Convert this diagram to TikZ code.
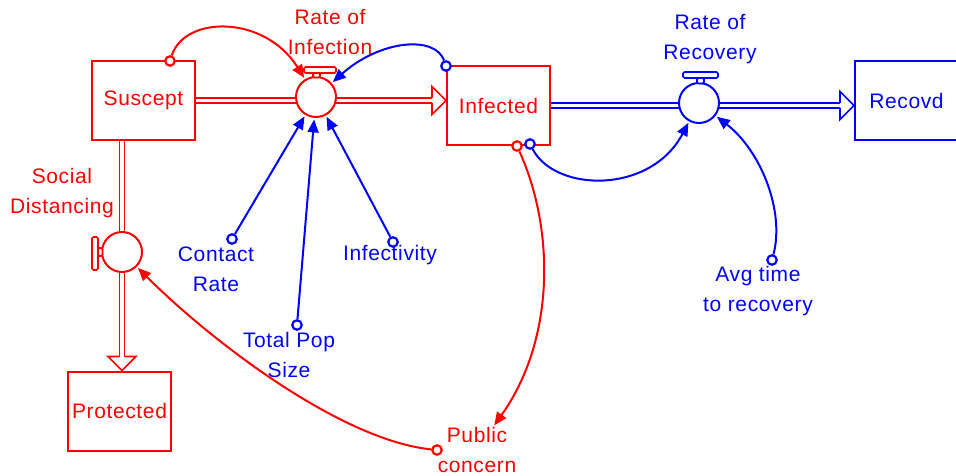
\documentclass[tikz,border=0pt]{standalone}
\usepackage{fontspec}
\setmainfont{Liberation Sans}[LetterSpace=3]
\usetikzlibrary{arrows.meta,calc}
\definecolor{sdred}{RGB}{255,0,0}
\definecolor{sdblue}{RGB}{0,0,255}

\tikzset{
  txt/.style={font=\fontsize{21}{30}\selectfont, inner sep=0pt, align=center},
  stock/.style={draw, line width=2pt, minimum width=103pt, minimum height=79pt, inner sep=0pt, txt},
  valve/.style={circle, draw, fill=white, line width=2pt, minimum size=40pt, inner sep=0pt},
  handle/.style={draw, fill=white, line width=1.6pt, rounded corners=1.5pt},
  pipe/.style={draw, double=white, double distance=3.4pt, line width=1.6pt},
  headshape/.style={draw, fill=white, line width=1.6pt, line join=miter},
  tail/.style={circle, draw, fill=white, line width=2.2pt, minimum size=9.5pt, inner sep=0pt},
  link/.style={line width=2pt, -{Triangle[length=13pt,width=11pt]}, shorten >=1.5pt},
}

% hollow arrow head closing a flow pipe: tip point, rotation, colour
\newcommand\pipehead[3]{%
  \draw[#3,headshape,shift={#1},rotate=#2]
    (-14,2.5) -- (-14,14) -- (0,0) -- (-14,-14) -- (-14,-2.5);}

\begin{document}
\begin{tikzpicture}[x=1pt,y=1pt]
\useasboundingbox (0,0) rectangle (956,-476);

% stocks
\node[sdred, stock]  (sus)  at (143.5,-100.5) {Suscept};
\node[sdred, stock]  (inf)  at (498.5,-105.5) {Infected};
\node[sdblue, stock] (rec)  at (906.5,-100.5) {Recovd};
\node[sdred, stock]  (prot) at (119.5,-411)   {Protected};

% valve positions
\coordinate (roiC) at (316,-97);
\coordinate (rorC) at (699,-103);
\coordinate (sdC)  at (122,-252);

% flow pipes
\draw[sdred, pipe] (sus.east) -- (sus.east -| 297,0);
\draw[sdred, pipe, shorten >=14pt] (sus.east -| 336,0) -- (inf.west |- sus.east);
\pipehead{(inf.west |- sus.east)}{0}{sdred}

\draw[sdblue, pipe] (inf.east) -- (inf.east -| 680,0);
\draw[sdblue, pipe, shorten >=14pt] (inf.east -| 718,0) -- (rec.west |- inf.east);
\pipehead{(rec.west |- inf.east)}{0}{sdblue}

\draw[sdred, pipe] (sus.south -| sdC) -- ($(sdC)+(0,19)$);
\draw[sdred, pipe, shorten >=14pt] ($(sdC)+(0,-19)$) -- (prot.north -| sdC);
\pipehead{(prot.north -| sdC)}{-90}{sdred}

% valves with their handles
\node[sdred, valve]  (roi) at (roiC) {};
\draw[sdred, handle, shift={(roiC)}] (-3,19.5) rectangle (4,24);
\draw[sdred, handle, shift={(roiC)}] (-12,24) rectangle (20,30);

\node[sdblue, valve] (ror) at (rorC) {};
\draw[sdblue, handle, shift={(rorC)}] (-2,19.5) rectangle (5,25);
\draw[sdblue, handle, shift={(rorC)}] (-16,25) rectangle (19,31);

\node[sdred, valve]  (sd) at (sdC) {};
\draw[sdred, handle, shift={(sdC)}] (-24,4) rectangle (-19.5,-4);
\draw[sdred, handle, shift={(sdC)}] (-30,15) rectangle (-24,-18);

% labels (anchored at the baseline of their last line)
\node[sdred, txt, anchor=base]  (roiL)     at (330,-55)  {Rate of\\Infection};
\node[sdblue, txt, anchor=base] (rorL)     at (710,-60)  {Rate of\\Recovery};
\node[sdred, txt, anchor=base]  (sdL)      at (62,-213)  {Social\\Distancing};
\node[sdblue, txt, anchor=base] (contactL) at (216,-291) {Contact\\Rate};
\node[sdblue, txt, anchor=base] (infectL)  at (390,-260) {Infectivity};
\node[sdblue, txt, anchor=base] (totalL)   at (289,-377) {Total Pop\\Size};
\node[sdblue, txt, anchor=base] (avgL)     at (758,-311) {Avg time\\to recovery};
\node[sdred, txt, anchor=base]  (pubL)     at (477,-472) {Public\\concern};

% connector tails
\node[sdred, tail]  (tsus)     at (170,-61)  {};
\node[sdblue, tail] (tinf1)    at (446,-66)  {};
\node[sdred, tail]  (tinf2)    at (517,-146) {};
\node[sdblue, tail] (tinf3)    at (530,-144) {};
\node[sdblue, tail] (tcontact) at (232,-239) {};
\node[sdblue, tail] (ttotal)   at (297,-325) {};
\node[sdblue, tail] (tinfect)  at (393,-242) {};
\node[sdblue, tail] (tavg)     at (772,-260) {};
\node[sdred, tail]  (tpub)     at (437,-450) {};

% information links
\draw[sdred, link]  (tsus) .. controls (185,-15) and (265,-15) .. (roi);
\draw[sdblue, link] (tinf1) .. controls (435,-35) and (380,-40) .. (roi);
\draw[sdblue, link] (tcontact) -- (roi);
\draw[sdblue, link] (ttotal) -- (roi);
\draw[sdblue, link] (tinfect) -- (roi);
\draw[sdblue, link] (tinf3) .. controls (555,-192) and (650,-195) .. (ror);
\draw[sdblue, link] (tavg) .. controls (785,-210) and (760,-150) .. (ror);
\draw[sdred, link]  (tinf2) .. controls (555,-230) and (555,-340) .. (pubL);
\draw[sdred, link]  (tpub) .. controls (340,-440) and (210,-340) .. (sd);
\end{tikzpicture}
\end{document}
